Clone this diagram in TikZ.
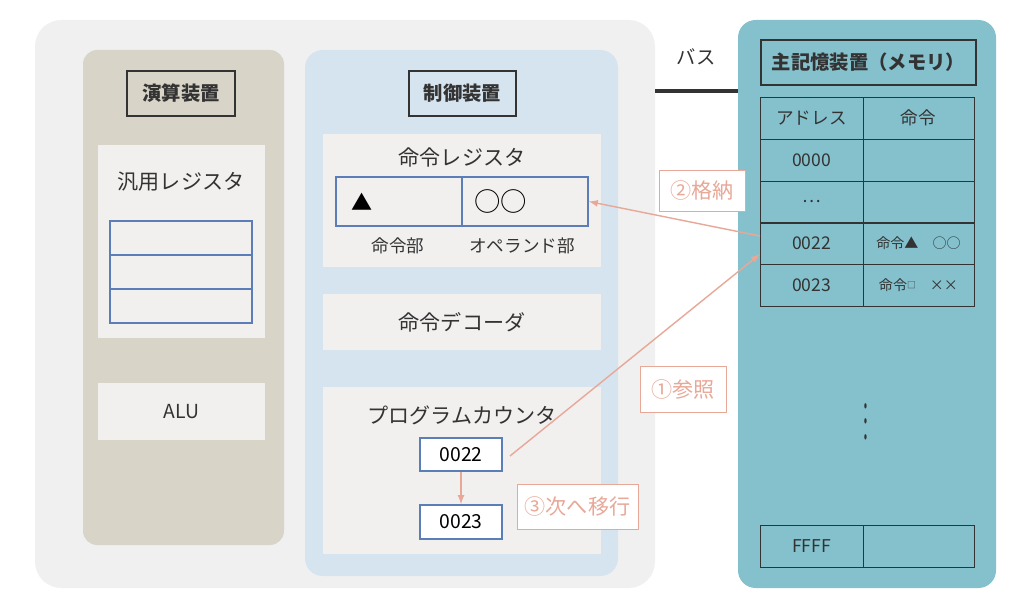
\documentclass[tikz,border=0pt]{standalone}
\usepackage{fontspec}
\setmainfont{Noto Sans CJK JP}
\usetikzlibrary{positioning}
\definecolor{panelgray}{HTML}{F0F0F0}
\definecolor{alucol}{HTML}{D9D4C8}
\definecolor{ctrlcol}{HTML}{D6E4F0}
\definecolor{memcol}{HTML}{84C1CC}
\definecolor{boxcol}{HTML}{F2F0EF}
\definecolor{regblue}{HTML}{5B7DB8}
\definecolor{salmon}{HTML}{E8A898}
\definecolor{ink}{HTML}{333333}
\tikzset{
  title/.style={draw=ink,thick,font=\bfseries\fontsize{11}{13}\selectfont,text=ink},
  inner box/.style={fill=boxcol,draw=none},
  reg/.style={draw=regblue,thick},
  cell/.style={draw=ink,font=\fontsize{10}{12}\selectfont,text=ink},
  step label/.style={draw=salmon,fill=white,text=salmon,font=\fontsize{12}{14}\selectfont},
  link/.style={salmon,thick,-latex}
}
\begin{document}
\begin{tikzpicture}[x=0.02cm,y=-0.02cm]
  \useasboundingbox (0,0) rectangle (1024,608);
  \fill[white] (0,0) rectangle (1024,608);
  % panels
  \fill[panelgray,rounded corners=15pt] (35,20) rectangle (655,588);
  \fill[alucol,rounded corners=8pt] (83,50) rectangle (284,545);
  \fill[ctrlcol,rounded corners=10pt] (305,50) rectangle (618,576);
  \fill[memcol,rounded corners=10pt] (738,20) rectangle (996,588);
  % ALU side
  \node[title,minimum width=108*0.02cm,minimum height=45*0.02cm] (alu title) at (181,93.5) {演算装置};
  \fill[boxcol] (98,145) rectangle (265,338);
  \node[text=ink,font=\fontsize{12}{14}\selectfont] (gen reg) at (181,182) {汎用レジスタ};
  \foreach \y in {221,255,289}
    \draw[reg] (110,\y) rectangle (252,\y+34);
  \node[inner box,minimum width=167*0.02cm,minimum height=57*0.02cm,text=ink,font=\fontsize{11}{13}\selectfont] (alu) at (181.5,411.5) {ALU};
  % control side
  \node[title,minimum width=107*0.02cm,minimum height=45*0.02cm] (ctrl title) at (462.5,93.5) {制御装置};
  \fill[boxcol] (323,134) rectangle (601,267);
  \node[text=ink,font=\fontsize{12}{14}\selectfont] (ir label) at (462,157) {命令レジスタ};
  \node[reg,minimum width=126*0.02cm,minimum height=49*0.02cm,inner sep=0pt] (opcode) at (399,201.5) {};
  \node[reg,minimum width=126*0.02cm,minimum height=49*0.02cm,inner sep=0pt] (operand) at (525,201.5) {};
  \node[font=\fontsize{12}{14}\selectfont,anchor=west] (op mark) at (345,201.5) {▲};
  \node[font=\fontsize{15}{17}\selectfont,anchor=west] (arg mark) at (468,201.5) {○○};
  \node[text=ink,font=\fontsize{10}{12}\selectfont] (opcode label) at (398,246) {命令部};
  \node[text=ink,font=\fontsize{10}{12}\selectfont] (operand label) at (522,246) {オペランド部};
  \node[inner box,minimum width=278*0.02cm,minimum height=56*0.02cm,text=ink,font=\fontsize{12}{14}\selectfont] (decoder) at (462,322) {命令デコーダ};
  \fill[boxcol] (323,387) rectangle (601,554);
  \node[text=ink,font=\fontsize{12}{14}\selectfont] (pc label) at (462,415) {プログラムカウンタ};
  \node[reg,fill=white,minimum width=82*0.02cm,minimum height=33*0.02cm,font=\fontsize{11}{13}\selectfont] (pc now) at (461,454.5) {0022};
  \node[reg,fill=white,minimum width=82*0.02cm,minimum height=34*0.02cm,font=\fontsize{11}{13}\selectfont] (pc next) at (461,522) {0023};
  \draw[link] (pc now) -- (pc next);
  % bus
  \node[text=ink,font=\fontsize{11}{13}\selectfont] (bus label) at (696,57) {バス};
  \coordinate (bus start) at (655,91);
  \coordinate (bus end) at (738,91);
  \draw[ink,line width=2pt] (bus start) -- (bus end);
  % memory
  \node[title,minimum width=215*0.02cm,minimum height=45*0.02cm] (mem title) at (868.5,62.5) {主記憶装置（メモリ）};
  \foreach \y/\a/\b [count=\i] in {97/アドレス/命令,139/0000/,181/\dots/,222/0022/{\fontsize{8}{10}\selectfont 命令▲\quad ○○},264/0023/{\fontsize{8}{10}\selectfont 命令\raisebox{0.3ex}{\fontsize{5}{6}\selectfont □}\quad ××}} {
    \node[cell,minimum width=103*0.02cm,minimum height=42*0.02cm] (addr\i) at (811.5,\y+21) {\a};
    \node[cell,minimum width=111*0.02cm,minimum height=42*0.02cm] (inst\i) at (918.5,\y+21) {\b};
  }
  \node[cell,minimum width=103*0.02cm,minimum height=42*0.02cm] (addr last) at (811.5,546) {FFFF};
  \node[cell,minimum width=111*0.02cm,minimum height=42*0.02cm] (inst last) at (918.5,546) {};
  \node[text=ink,inner sep=0pt] (vdots) at (866,410) {\scalebox{1}[2.2]{$\vdots$}};
  % steps
  \coordinate (fetch in) at (760,236);
  \coordinate (ref end) at (760,254);
  \coordinate (pc out) at (510,456);
  \draw[link] (fetch in) -- (operand.east);
  \draw[link] (pc out) -- (ref end);
  \node[step label,minimum width=86*0.02cm,minimum height=41*0.02cm] (store) at (702,190.5) {②格納};
  \node[step label,minimum width=86*0.02cm,minimum height=46*0.02cm] (refer) at (683,389) {①参照};
  \node[step label,minimum width=121*0.02cm,minimum height=45*0.02cm] (advance) at (577.5,506.5) {③次へ移行};
\end{tikzpicture}
\end{document}
